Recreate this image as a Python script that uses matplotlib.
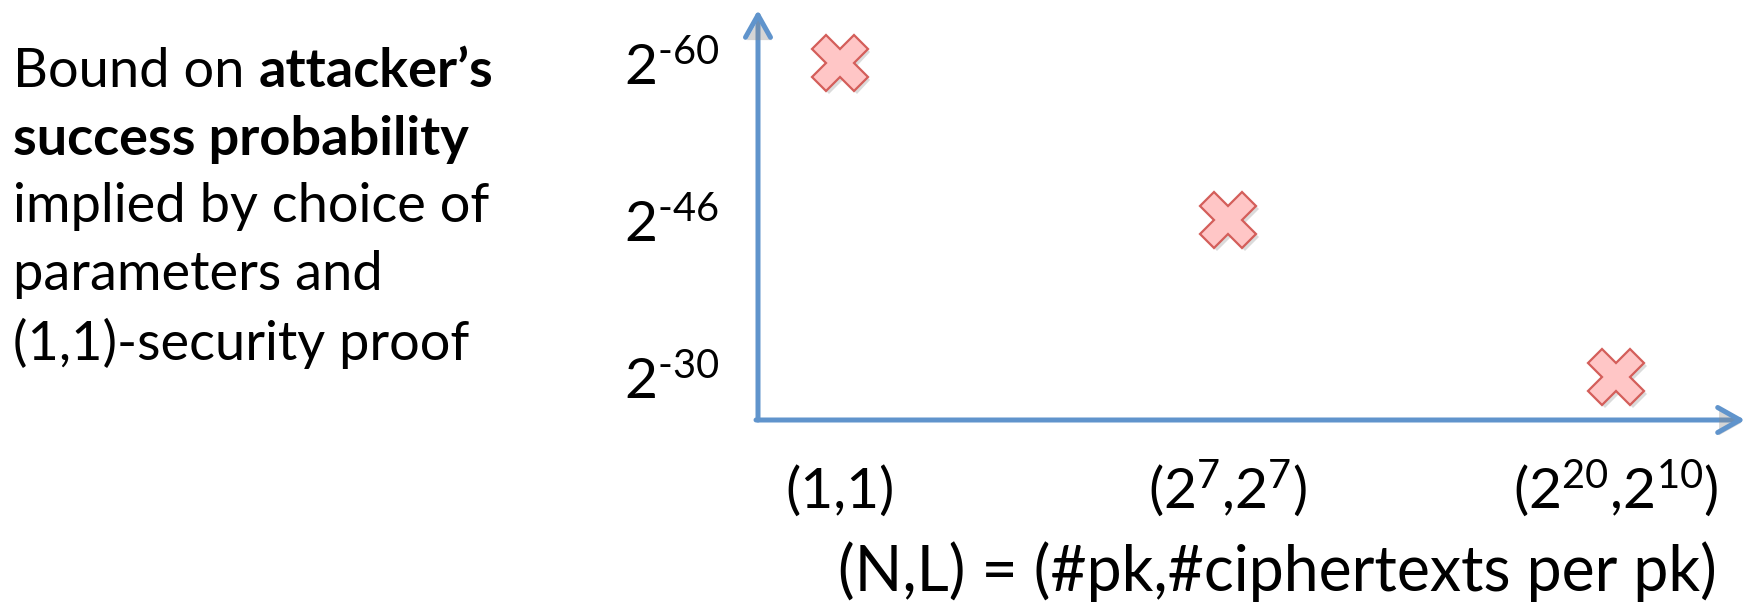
import matplotlib
matplotlib.use("Agg")
import matplotlib.pyplot as plt
import matplotlib.patheffects as pe

# data
settings = ["(1,1)", "(2$^{7}$,2$^{7}$)", "(2$^{20}$,2$^{10}$)"]
bound_labels = ["2$^{\\text{-60}}$", "2$^{\\text{-46}}$", "2$^{\\text{-30}}$"]
bound_exp = [-60, -46, -30]          # attacker success bound, log2
point_setting = [0, 1, 2]            # which (N,L) each cross sits on

caption_lines = [
    [("Bound on ", "normal"), ("attacker\u2019s", "bold")],
    [("success probability", "bold")],
    [("implied by choice of", "normal")],
    [("parameters and", "normal")],
    [("(1,1)-security proof", "normal")],
]

plt.rcParams["font.family"] = ["Lato", "DejaVu Sans"]
plt.rcParams["mathtext.fontset"] = "custom"
plt.rcParams["mathtext.rm"] = "Lato"
plt.rcParams["mathtext.it"] = "Lato:italic"
plt.rcParams["mathtext.bf"] = "Lato:bold"
plt.rcParams["mathtext.default"] = "regular"

W, H = 1748, 602
fig = plt.figure(figsize=(W / 100, H / 100), dpi=100)

axis_blue = "#6094CC"
ax = fig.add_axes([758 / W, (H - 420) / H, (W - 758) / W, 410 / H])
ax.set_xlim(-0.211, 2.34)
ax.set_ylim(2.274, -0.338)
for s in ax.spines.values():
    s.set_visible(False)

# axes drawn as arrows
shadow = [pe.SimplePatchShadow(offset=(1, -2), shadow_rgbFace="#888888", alpha=0.35), pe.Normal()]
arrow_kw = dict(arrowstyle="->,head_length=0.8,head_width=0.45", color=axis_blue,
                lw=3.6, mutation_scale=20, shrinkA=0, shrinkB=0, capstyle="round")
ax.annotate("", xy=(0, 1), xytext=(0, 0), xycoords="axes fraction",
            arrowprops=dict(**arrow_kw), annotation_clip=False)
ax.annotate("", xy=(0.997, 0), xytext=(-0.002, 0), xycoords="axes fraction",
            arrowprops=dict(**arrow_kw), annotation_clip=False)
for a in ax.texts:
    a.arrow_patch.set_path_effects(shadow)

# crosses
ypos = [bound_exp.index(e) for e in bound_exp]
ax.plot(point_setting, ypos, linestyle="none", marker="X", markersize=40,
        markerfacecolor="#FFC6C6", markeredgecolor="#D45E5A", markeredgewidth=1.6,
        path_effects=[pe.SimplePatchShadow(offset=(2, -2), shadow_rgbFace="#999999", alpha=0.35),
                      pe.Normal()], clip_on=False)

ax.set_xticks(range(len(settings)))
ax.set_xticklabels(settings, fontsize=41)
ax.set_yticks(range(len(bound_labels)))
ax.set_yticklabels(bound_labels, fontsize=41)
ax.tick_params(axis="x", length=0, pad=63)
ax.tick_params(axis="y", length=0, pad=28)
for lab in ax.get_xticklabels():
    lab.set_verticalalignment("baseline")

ax.set_xlabel("(N,L) = (#pk,#ciphertexts per pk)", fontsize=45, va="baseline")
ax.xaxis.set_label_coords(0.525, -0.418)

# caption on the left, line by line
baselines = [87, 155, 222, 290, 360]
for line, yb in zip(caption_lines, baselines):
    x = 13 / W
    for txt, weight in line:
        t = fig.text(x, 1 - yb / H, txt, fontsize=39, fontweight=weight,
                     va="baseline", ha="left")
        fig.canvas.draw()
        x = t.get_window_extent().x1 / W

fig.savefig("out.png", dpi=100)
